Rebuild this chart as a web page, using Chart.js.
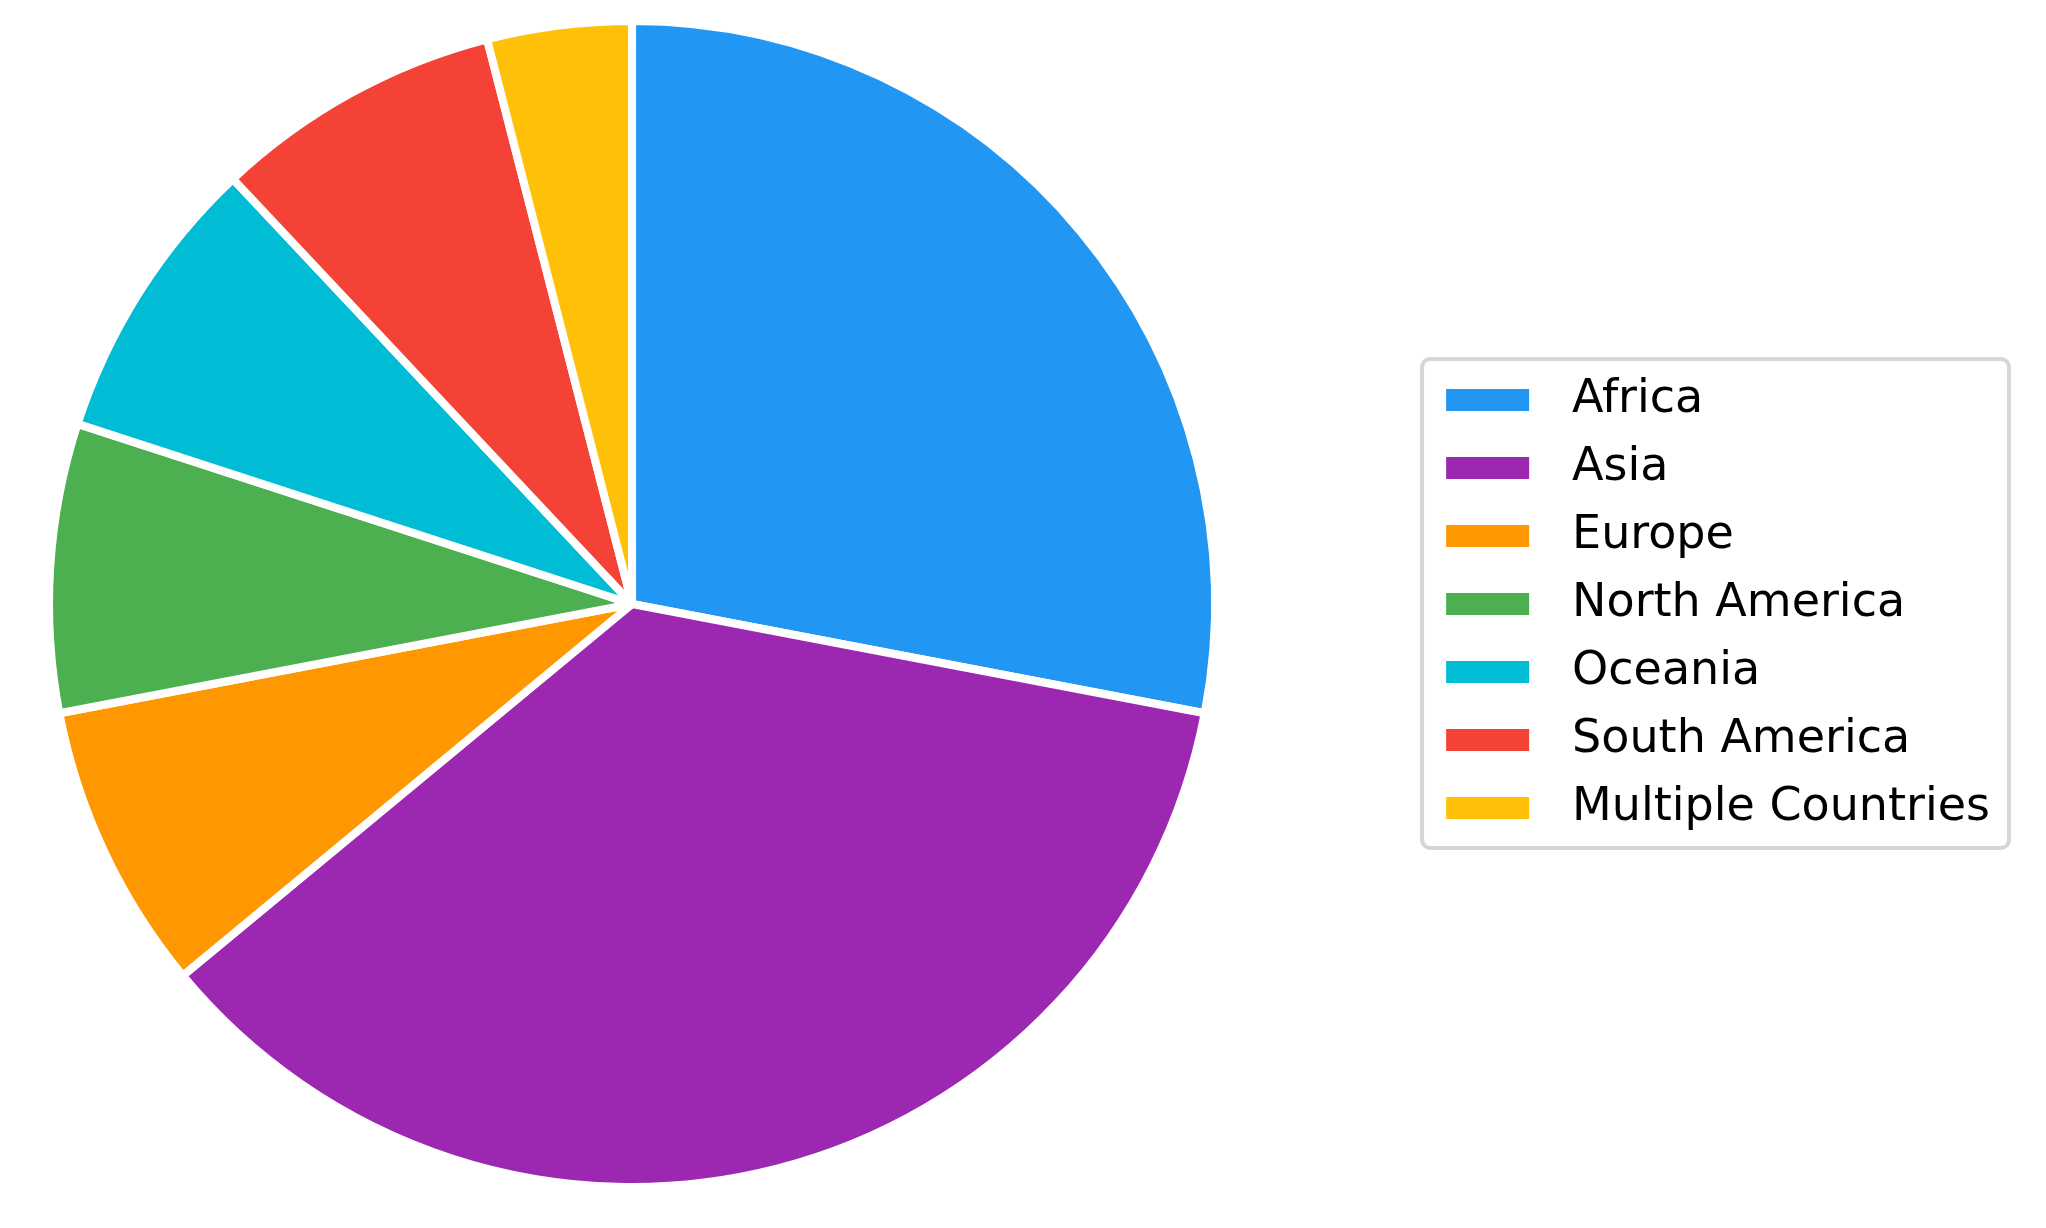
<!DOCTYPE html>
<html>
<head>
<meta charset="utf-8">
<title>Projects by region</title>
<script src="https://cdn.jsdelivr.net/npm/chart.js@4.4.1/dist/chart.umd.min.js"></script>
<style>
  html,body{margin:0;padding:0;background:#fff;}
  #wrap{width:2046px;height:1228px;}
</style>
</head>
<body>
<div id="wrap"><canvas id="pie"></canvas></div>
<script>
const regions = ['Africa','Asia','Europe','North America','Oceania','South America','Multiple Countries'];
const counts = [7, 9, 2, 2, 2, 2, 1];
const colors = ['#2196F3','#9C27B0','#FF9800','#4CAF50','#00BCD4','#F44336','#FFC107'];

(() => {
  // legend swatch as an image: transparent lead-in so the box sits where the reference has it
  const SW = 263, SX = 160, BW = 83, BH = 22;
  const swatch = (c) => {
    const cv = document.createElement('canvas');
    cv.width = SW; cv.height = BH;
    const g = cv.getContext('2d');
    g.fillStyle = c; g.fillRect(SX, 0, BW, BH);
    return cv;
  };
  const swatches = colors.map(swatch);

  // rounded frame around the legend items
  const legendFrame = {
    id: 'legendFrame',
    afterDraw(chart){
      const hb = chart.legend && chart.legend.legendHitBoxes;
      if (!hb || !hb.length) return;
      const first = hb[0], last = hb[hb.length-1];
      const maxR = Math.max(...hb.map(b => b.left + b.width));
      const x0 = first.left + SX - 24, y0 = first.top - 18;
      const x1 = maxR + 19, y1 = last.top + last.height + 17;
      const ctx = chart.ctx;
      ctx.save();
      ctx.strokeStyle = '#d6d6d6'; ctx.lineWidth = 4;
      ctx.beginPath(); ctx.roundRect(x0, y0, x1-x0, y1-y0, 8); ctx.stroke();
      ctx.restore();
    }
  };

  new Chart(document.getElementById('pie'), {
    type: 'pie',
    data: {
      labels: regions,
      datasets: [{ data: counts, backgroundColor: colors, borderColor: '#ffffff', borderWidth: 8, borderJoinStyle: 'round', hoverOffset: 0 }]
    },
    options: {
      responsive: true, maintainAspectRatio: false, animation: false,
      radius: 583,
      layout: { padding: { left: 0, top: 2, bottom: 22, right: 46 } },
      plugins: {
        tooltip: { enabled: false },
        legend: {
          position: 'right',
          labels: {
            usePointStyle: true, pointStyleWidth: SW, boxHeight: BH,
            padding: 22, color: '#000',
            font: { family: 'DejaVu Sans', size: 46 },
            generateLabels: (chart) => regions.map((t, i) => ({
              text: t, fillStyle: colors[i], strokeStyle: colors[i], lineWidth: 0,
              pointStyle: swatches[i], fontColor: '#000', hidden: false, index: i
            }))
          }
        }
      }
    },
    plugins: [legendFrame]
  });
})();
</script>
</body>
</html>
